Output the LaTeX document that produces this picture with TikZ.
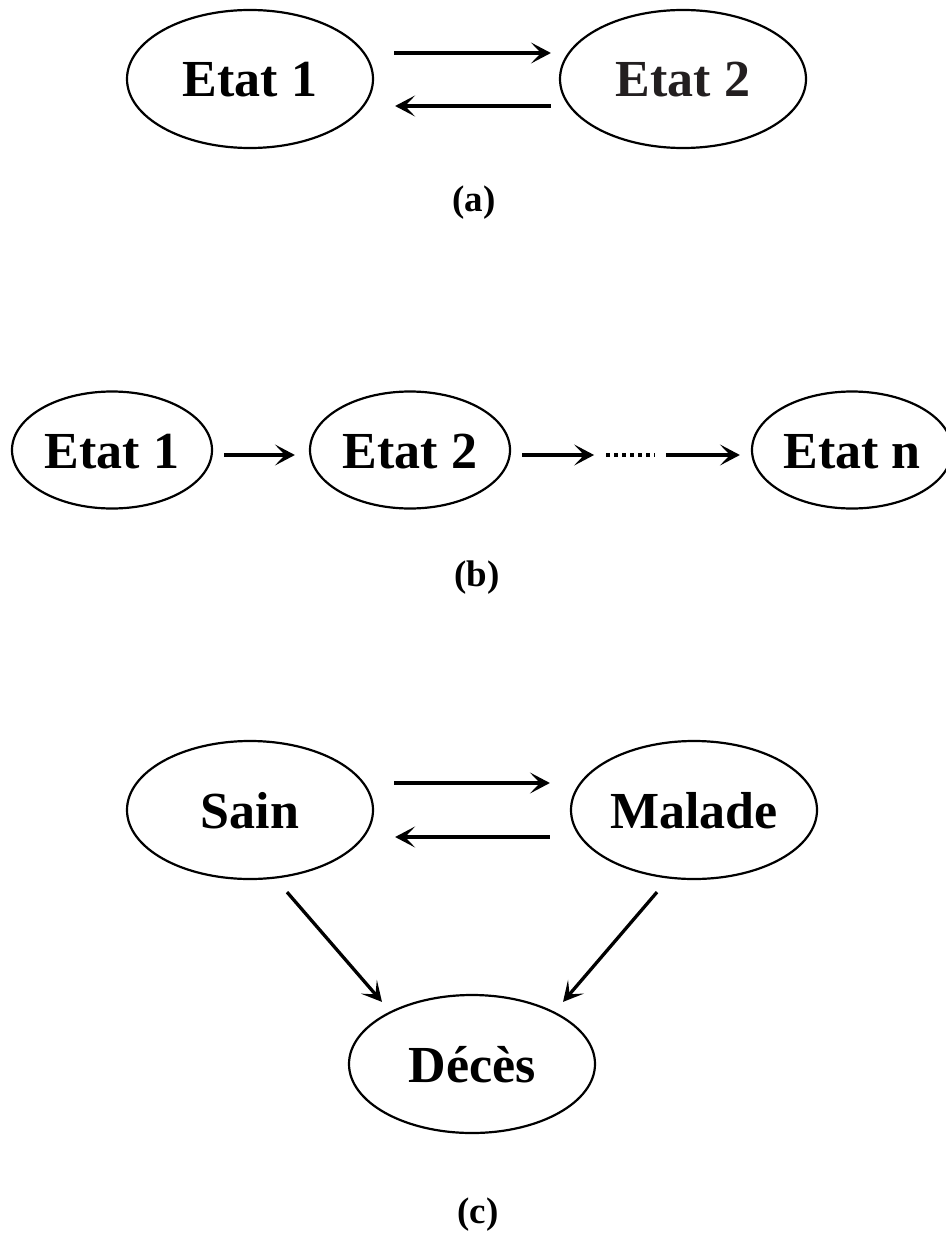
\documentclass[tikz,border=0pt]{standalone}
\usepackage{fontspec}
\setmainfont{Liberation Serif}
\usetikzlibrary{shapes.geometric,arrows.meta,calc}
\definecolor{txtgray}{HTML}{231F20}
\tikzset{
  big/.style={ellipse, draw, line width=2.2pt, inner sep=0pt,
    minimum width=246pt, minimum height=138pt,
    font=\fontsize{52}{60}\selectfont\bfseries, text height=36pt, text depth=0pt},
  small/.style={ellipse, draw, line width=2.2pt, inner sep=0pt,
    minimum width=200pt, minimum height=117pt,
    font=\fontsize{52}{60}\selectfont\bfseries, text height=36pt, text depth=0pt},
  arr/.style={line width=4pt, -{Stealth[length=20pt,width=21pt,inset=10pt]}},
  darr/.style={line width=3.3pt, -{Stealth[length=20pt,width=21pt,inset=10pt]}},
  sublabel/.style={font=\fontsize{37}{44}\selectfont\bfseries, inner sep=0pt}
}
\begin{document}
\begin{tikzpicture}[x=1pt,y=-1pt]
\useasboundingbox (0,0) rectangle (945,1236);
% (a)
\node[big] (a1) at (250,79) {Etat 1};
\node[big, text=txtgray] (a2) at (683,79) {Etat 2};
\draw[arr] ($(a1.east)+(20,-26)$) -- ($(a2.west)+(-8,-26)$);
\draw[arr] ($(a2.west)+(-8,27)$) -- ($(a1.east)+(21,27)$);
\node[sublabel] (la) at (474,203) {(a)};
% (b)
\node[small] (b1) at (112,450) {Etat 1};
\node[small] (b2) at (410,450) {Etat 2};
\node[small] (b3) at (852,450) {Etat n};
\coordinate (d1) at ($(b2.east)+(95,5)$);
\coordinate (d2) at ($(b3.west)+(-96,5)$);
\draw[arr] ($(b1.east)+(11,5)$) -- ($(b2.west)+(-14,5)$);
\draw[arr] ($(b2.east)+(11,5)$) -- ($(b2.east)+(83,5)$);
\draw[line width=3.5pt, dash pattern=on 3.5pt off 4.5pt] (d1) -- (d2);
\draw[arr] ($(d2)+(11,0)$) -- ($(b3.west)+(-11,5)$);
\node[sublabel] (lb) at (477,578) {(b)};
% (c)
\node[big] (s) at (250,810) {Sain};
\node[big] (m) at (694,810) {Malade};
\node[big] (d) at (472,1064) {Décès};
\draw[arr] ($(s.east)+(20,-27)$) -- ($(m.west)+(-20,-27)$);
\draw[arr] ($(m.west)+(-20,27)$) -- ($(s.east)+(21,27)$);
\draw[darr] ($(s.south)+(37,12)$) -- ($(d.north)+(-90,8)$);
\draw[darr] ($(m.south)+(-37,12)$) -- ($(d.north)+(91,8)$);
\node[sublabel] (lc) at (478,1215) {(c)};
\end{tikzpicture}
\end{document}
